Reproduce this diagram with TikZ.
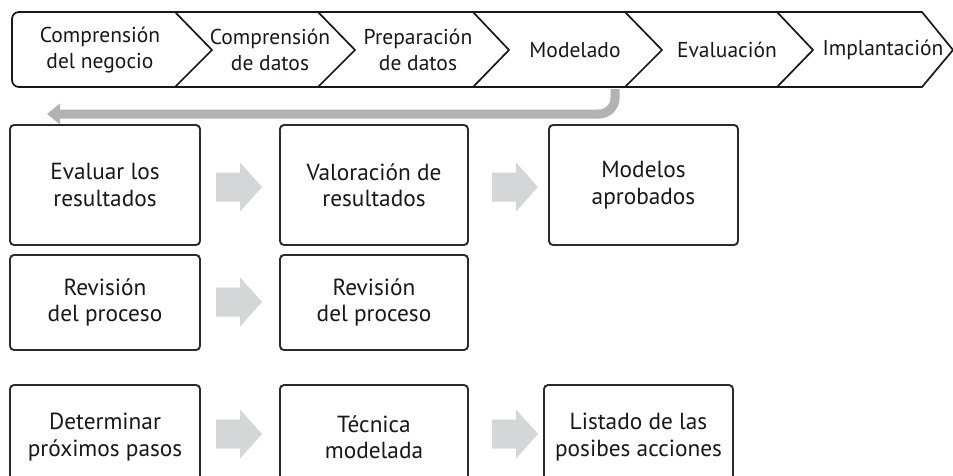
\documentclass[tikz,border=0pt]{standalone}
\usepackage{fontspec}
\setmainfont{PT Sans}
\usetikzlibrary{arrows.meta}
\definecolor{ink}{HTML}{1A1718}
\definecolor{boxline}{HTML}{2B2B2B}
\definecolor{blockgray}{HTML}{D5D6D8}
\definecolor{retgray}{HTML}{B1B2B4}
\tikzset{
  chevline/.style={draw=ink, line width=1.7pt, line join=miter},
  chevtext/.style={align=center, text=ink, font=\fontsize{21.5}{26}\selectfont, inner sep=0pt},
  stagebox/.style={draw=boxline, line width=1.9pt, rounded corners=4pt, align=center, text=ink,
    font=\fontsize{23.3}{26.5}\selectfont, inner sep=0pt},
  pics/blockarrow/.style={code={\fill[blockgray] (-23,-14.5) -- (1,-14.5) -- (1,-24.5) -- (23,0) -- (1,24.5) -- (1,14.5) -- (-23,14.5) -- cycle;}}
}
\begin{document}
\begin{tikzpicture}[x=1pt,y=-1pt]
\useasboundingbox (0,0) rectangle (953,475);
\clip (0,0) rectangle (953,475);
\fill[white] (0,0) rectangle (953,475);
% chevron bar
\draw[chevline] (175,12) -- (922,12) -- (953,50) -- (922,87) -- (175,87);
\draw[chevline, rounded corners=7pt] (175,87) -- (12,87) -- (12,12) -- (175,12);
\foreach \xa/\xb in {175/212, 318/355, 473/509, 625/662, 777/813}{
  \draw[chevline] (\xa,12) -- (\xb,50) -- (\xa,87);
}
\node[chevtext] (t1) at (100,50) {Comprensión\\del negocio};
\node[chevtext] (t2) at (270,50) {Comprensión\\de datos};
\node[chevtext] (t3) at (418,50) {Preparación\\de datos};
\node[chevtext] (t4) at (575,50) {Modelado};
\node[chevtext] (t5) at (727,50) {Evaluación};
\node[chevtext] (t6) at (883,50) {Implantación};
% return arrow
\coordinate (rs) at (615,89);
\coordinate (re) at (47,114);
\draw[retgray, line width=9pt, rounded corners=16pt, -{Triangle[width=20pt,length=13pt]}] (rs) -- (rs |- re) -- (re);
% boxes
\node[stagebox, minimum width=190pt, minimum height=120pt] (b11) at (105,185) {Evaluar los\\resultados};
\node[stagebox, minimum width=188pt, minimum height=120pt] (b12) at (374,185) {Valoración de\\resultados};
\node[stagebox, minimum width=189pt, minimum height=120pt] (b13) at (643.5,185) {Modelos\\aprobados};
\node[stagebox, minimum width=190pt, minimum height=95pt] (b21) at (105,302.5) {Revisión\\del proceso};
\node[stagebox, minimum width=188pt, minimum height=95pt] (b22) at (374,302.5) {Revisión\\del proceso};
\node[stagebox, minimum width=190pt, minimum height=104pt] (b31) at (105,437) {Determinar\\próximos pasos};
\node[stagebox, minimum width=188pt, minimum height=104pt] (b32) at (374,437) {Técnica\\modelada};
\node[stagebox, minimum width=189pt, minimum height=104pt] (b33) at (638.5,437) {Listado de las\\posibes acciones};
% block arrows
\pic at (239,187) {blockarrow};
\pic at (515,187) {blockarrow};
\pic at (239,302) {blockarrow};
\pic at (239,434) {blockarrow};
\pic at (515,434) {blockarrow};
\end{tikzpicture}
\end{document}
